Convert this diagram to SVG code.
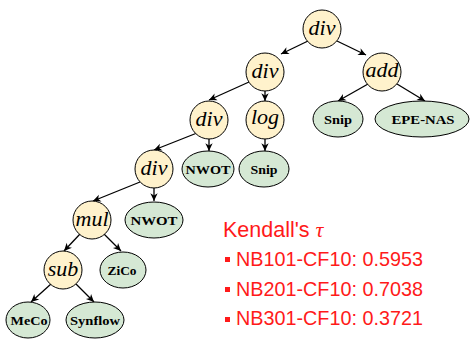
<svg xmlns="http://www.w3.org/2000/svg" width="470" height="339" viewBox="0 0 470 339">
<style>
.op{fill:#fff2cc;stroke:#000;stroke-width:1}
.leaf{fill:#d5e8d4;stroke:#000;stroke-width:1}
.m{font-family:"Liberation Serif",serif;font-style:italic;font-size:22px;text-anchor:middle;fill:#000}
.b{font-family:"Liberation Serif",serif;font-weight:bold;font-size:13px;text-anchor:middle;fill:#000}
.e{stroke:#000;stroke-width:1.3;fill:none;marker-end:url(#ah)}
.r{font-family:"Liberation Sans",Arial,sans-serif;fill:#ff1a1a}
</style>
<defs>
<marker id="ah" markerUnits="userSpaceOnUse" markerWidth="10" markerHeight="10" viewBox="-8 -4 9 8" refX="0" refY="0" orient="auto">
<path d="M-7,-3.3 L0,0 L-7,3.3 L-5,0 z" fill="#000"/>
</marker>
</defs>
<rect width="470" height="339" fill="#fff"/>
<g id="connectors">
<line class="e" x1="308" y1="41" x2="281" y2="54"/>
<line class="e" x1="337" y1="41" x2="366" y2="55"/>
<line class="e" x1="249" y1="82" x2="209" y2="100"/>
<line class="e" x1="265" y1="91" x2="265" y2="101"/>
<line class="e" x1="368" y1="84" x2="338" y2="101"/>
<line class="e" x1="397" y1="84" x2="425" y2="101"/>
<line class="e" x1="209" y1="139" x2="209" y2="151"/>
<line class="e" x1="265" y1="139" x2="265" y2="151"/>
<line class="e" x1="197" y1="133" x2="154" y2="150"/>
<line class="e" x1="154" y1="188" x2="154" y2="201"/>
<line class="e" x1="140" y1="182" x2="93" y2="201"/>
<line class="e" x1="80" y1="234" x2="64" y2="251"/>
<line class="e" x1="104" y1="234" x2="121" y2="251"/>
<line class="e" x1="51" y1="284" x2="31" y2="302"/>
<line class="e" x1="76" y1="284" x2="94" y2="302"/>
</g>
<g id="root"><circle class="op" cx="322" cy="29" r="19"/><text class="m" x="322" y="35">div</text></g>
<g id="div1"><circle class="op" cx="265" cy="72" r="19"/><text class="m" x="265" y="78">div</text></g>
<g id="add"><circle class="op" cx="382" cy="72" r="19"/><text class="m" x="382" y="77">add</text></g>
<g id="div2"><circle class="op" cx="209" cy="120" r="19"/><text class="m" x="209" y="126">div</text></g>
<g id="log"><circle class="op" cx="265" cy="120" r="19"/><text class="m" x="265" y="124">log</text></g>
<g id="snip1"><ellipse class="leaf" cx="338" cy="119" rx="25" ry="18"/><text class="b" x="338" y="123.5" textLength="28" lengthAdjust="spacingAndGlyphs">Snip</text></g>
<g id="epenas"><ellipse class="leaf" cx="422" cy="119" rx="47" ry="18"/><text class="b" x="423" y="123.5" textLength="63" lengthAdjust="spacingAndGlyphs">EPE-NAS</text></g>
<g id="div3"><circle class="op" cx="154" cy="169" r="19"/><text class="m" x="154" y="175">div</text></g>
<g id="nwot1"><ellipse class="leaf" cx="208" cy="169" rx="26" ry="18"/><text class="b" x="208" y="173.5" textLength="45" lengthAdjust="spacingAndGlyphs">NWOT</text></g>
<g id="snip2"><ellipse class="leaf" cx="264" cy="169" rx="25" ry="18"/><text class="b" x="264" y="173.5" textLength="27" lengthAdjust="spacingAndGlyphs">Snip</text></g>
<g id="mul"><circle class="op" cx="92" cy="220" r="19"/><text class="m" x="92" y="226">mul</text></g>
<g id="nwot2"><ellipse class="leaf" cx="154" cy="220" rx="29" ry="18"/><text class="b" x="154" y="224.5" textLength="47" lengthAdjust="spacingAndGlyphs">NWOT</text></g>
<g id="sub"><circle class="op" cx="63" cy="270" r="19"/><text class="m" x="63" y="276">sub</text></g>
<g id="zico"><ellipse class="leaf" cx="123" cy="270" rx="23" ry="18"/><text class="b" x="122" y="274.5" textLength="29" lengthAdjust="spacingAndGlyphs">ZiCo</text></g>
<g id="meco"><ellipse class="leaf" cx="28" cy="320" rx="22" ry="18"/><text class="b" x="29" y="324.5" textLength="37" lengthAdjust="spacingAndGlyphs">MeCo</text></g>
<g id="synflow"><ellipse class="leaf" cx="95" cy="320" rx="29" ry="18"/><text class="b" x="95" y="324.5" textLength="50" lengthAdjust="spacingAndGlyphs">Synflow</text></g>
<g id="legend">
<text class="r" x="223" y="237" font-size="21.5">Kendall's <tspan font-family="Liberation Serif,serif" font-style="italic" font-size="22">τ</tspan></text>
<rect x="225" y="257" width="5" height="5" fill="#ff1a1a"/>
<text class="r" x="236" y="266" font-size="19.8">NB101-CF10: 0.5953</text>
<rect x="225" y="287" width="5" height="5" fill="#ff1a1a"/>
<text class="r" x="236" y="295.5" font-size="19.8">NB201-CF10: 0.7038</text>
<rect x="225" y="317" width="5" height="5" fill="#ff1a1a"/>
<text class="r" x="236" y="325" font-size="19.8">NB301-CF10: 0.3721</text>
</g>
</svg>
